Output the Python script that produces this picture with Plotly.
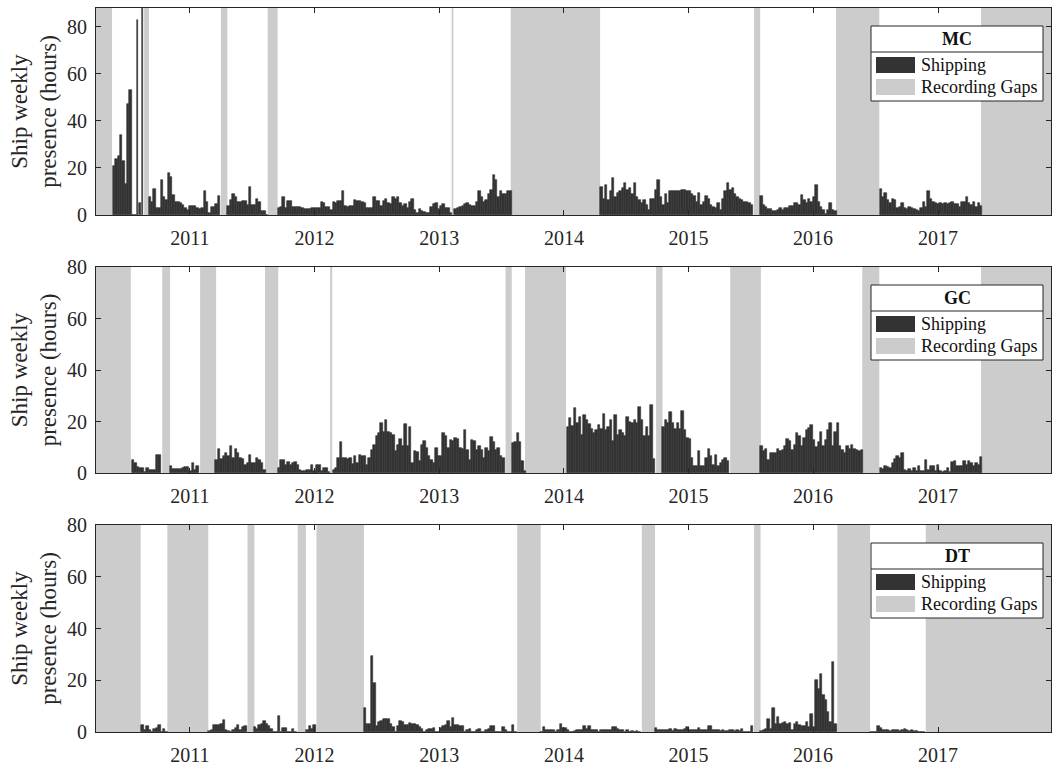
import datetime as dt
import plotly.graph_objects as go

# ---------------- data ----------------
series_start = dt.datetime(2010, 4, 1)   # first weekly bin
axis_start = "2010-04-01"
axis_end = "2017-11-28"
year_labels = ["2011", "2012", "2013", "2014", "2015", "2016", "2017"]
y_ticks = [0, 20, 40, 60, 80]

# weekly ship presence (hours); None = no recording
mc_hours = (
    [None] * 7
    + [21, 24, 25, 34, 23, 13, 47, 53, 0, 0, 83, 5, 95]
    + [None] * 2
    + [7.8, 5.7, 11, 3, 3, 15, 7.8, 6.4, 17.7, 16, 8.5, 5.7, 5.4, 5, 4.2, 2.8, 2, 4, 4, 4,
       3, 2.5, 2.8, 10, 5.7, 1, 3.5, 3.5, 4.7, 8]
    + [None] * 3
    + [4, 6.4, 8.8, 7.8, 5.7, 5.7, 6, 6, 4.2, 12, 4.2, 4.2, 6.7, 5.7, 1.8, 1.8, 0]
    + [None] * 4
    + [2.8, 3.5, 7.8, 3, 6, 6, 3.5, 3.3, 3.5, 3.5, 3, 2.4, 2.4, 2.4, 3, 3, 3, 3, 5.7, 5,
       3.5, 3.5, 2, 5.7, 5, 6, 6, 10, 3.8, 3.5, 4, 4, 6.4, 6, 6, 5.7, 5, 3, 3, 3,
       7.8, 6, 6]
    + [3.8, 6, 6.6, 5, 4.7, 7.8, 6.8, 7.8, 5, 4, 4.7, 2.8, 5.7, 6.6, 2, 0.7, 2.5, 1.8, 1.1, 1,
       1, 3.3, 4.5, 5.2, 2.5, 3.8, 4.7, 2.8, 2.8, 1]
    + [None]
    + [2.4, 3, 3.5, 3.8, 4.7, 5, 4.2, 3.8, 4, 5.7, 10, 7.8, 5.7, 6.4, 9, 10.6, 17, 15, 7.8, 10,
       8.8, 8.8, 10, 10]
    + [None] * 37
    + [12, 7, 12.7, 6.4, 10, 15.8, 7.8, 9.5, 10.3, 11.3, 13.5, 10.5, 11.3, 9, 13.5, 7.8, 6.4, 5,
       6.4, 4.2, 2, 6.6, 6.6, 10.6, 15, 7.8, 4.2, 9, 5, 10, 10, 10.3, 10.3]
    + [10.3, 10.5, 10.5, 10.2, 10, 9, 8, 5.7, 9.2, 4.2, 5.7, 8.2, 7, 4.2, 3.5, 2.8, 5, 2, 6.7, 10,
       13.5, 10.6, 11.3, 9, 7.8, 6.6, 6.4, 5.7, 5.5, 5, 4.2]
    + [None] * 3
    + [8, 4.2, 3.5, 2.4, 2.4, 1.8, 1.8, 2, 2.8, 2, 2.8, 2.8, 4, 4, 5.3, 5, 4.2, 8.5, 6.4, 5,
       6.7, 5.7, 7.8, 12.7, 5.7, 3.5, 2, 0.5, 2, 5, 2, 1.5]
    + [None] * 18
    + [10.9, 7.5, 9.2, 6.4, 5, 7, 6.4, 2.8, 3.5, 5, 2.8, 2.4, 3.5, 2.8, 2.4, 2, 1.8, 2.8, 5.7, 3.5,
       10.2, 6.6, 5.7, 5.3, 4.7, 5.3, 4.7, 5.3, 4.5, 5, 5.7, 4.7, 4.7, 3.5, 5.7, 5.7, 7.8, 5, 4.2,
       5.7, 3.5, 5, 4]
    + [None] * 29
)

gc_hours = (
    [None] * 15
    + [5.2, 3.9, 2.3, 1.9, 1.9, 0.3, 1.9, 1.3, 1.3, 1.3, 7.1, 7.1]
    + [None] * 4
    + [2.8, 1.7, 1.7, 1.7, 1.7, 1.9, 2.3, 2.3, 0.6, 3.9, 1.3, 2.6]
    + [None] * 7
    + [5.2, 9.3, 5.5, 6.5, 7.7, 6.7, 10.3, 5.8, 9.3, 7.7, 5.8, 5.4, 3.2, 3.9, 7.1, 3.9, 3.9, 5.8,
       5.2, 4.0, 1.3]
    + [None] * 5
    + [1.9, 5.2, 5.2, 3.2, 4.3, 3.2, 3.9, 4.1, 3.2, 1.3, 0.6, 0.6, 1.0, 1.3, 3.2, 0.6, 3.2, 3.2,
       0.6, 1.9, 1.9, 0.3]
    + [None]
    + [1.3, 1.9, 5.8, 11.9, 5.8, 6, 5.5, 5.8, 3.5, 6.7, 3.9, 7.1, 6.7, 6.5, 3.2, 5.8, 9, 11, 14.2,
       15.5, 19.4, 16.1, 20.4, 16, 15.7, 14.8, 8.4, 11, 13.2, 10.3, 19.1, 10.3]
    + [18, 3.9, 8.4, 8, 4.5, 11, 12.3, 9.7, 6.5, 5.2, 3.9, 9.7, 6.5, 6.7, 15.5, 14.2, 9.7, 12.9,
       12.3, 13.5, 13.2, 9.7, 9.3, 16.8, 9, 5.2, 12.9, 12.3, 9, 10.3, 9, 5.8, 9.7, 8.4, 13.9, 11.9,
       9, 9.7, 6.5, 6]
    + [None] * 3
    + [11.6, 11.9, 15.7, 12, 4.5, 0.6]
    + [None] * 17
    + [18, 21.3, 18.3, 25.2, 19.4, 21.9, 14.8, 22.6, 20.6, 19.1, 17, 15.7, 16.8, 18.7, 17, 23,
       16.8, 18, 20.4, 12.3, 22.6, 14.8, 16.8, 15.5, 14.2, 21.7, 20, 19.6, 20.6, 19.4, 25.8, 20.4,
       14.2, 18, 14.2, 26.5, 5.4]
    + [None] * 3
    + [18, 20.4, 19.6, 23.5, 19.4, 17, 19.4, 17, 23.9, 16.8, 13.5, 13.2, 5.8, 2.6, 2.6, 8.4, 2.6,
       2.6, 5.8, 9.3, 6.5, 3.2, 7.1, 2.8, 3.9, 4.9, 5.8, 4.5]
    + [None] * 13
    + [10.3, 8.6, 9.3, 5.2, 7.7, 7.7, 7.7, 9.4, 8.6, 9, 10.3, 13.2, 12.3, 9, 11, 15.5, 14.2, 10.3,
       13.5, 16.8, 17.4, 18.7, 12.9, 10.1, 11.9, 16.1, 10.3, 12.9, 16.8, 19.4, 10.3, 16.1, 19.4,
       10.3, 9, 7.7, 10.3, 9.3, 11, 9.3, 9, 8.5, 9.0]
    + [None] * 7
    + [1.9, 1.5, 2.6, 2.3, 1.9, 3.9, 5.4, 6.5, 5.8, 7.7, 1.3, 0.6, 1.5, 0.6, 1.9, 0.6, 2.8, 0.6,
       0.6, 4.9, 1.3, 2.6, 2.6, 0.6, 3.2, 0.6, 0.3, 0.6, 1.9, 0.3, 4.1, 4.5, 2.6, 2.6, 2.8, 4.5,
       3.2, 4.5, 3.9, 2.6, 4.0, 3.0, 6.2]
    + [None] * 29
)

dt_hours = (
    [None] * 19
    + [2.8, 0.6, 2.2, 0.6, 0, 1.3, 1.7, 2.6, 0, 1, 0]
    + [None] * 17
    + [0.3, 0.6, 2.6, 2.6, 2.6, 3, 4.8, 0.6, 0.3, 0, 0.6, 1.7, 2.6, 0.6, 1.9, 2.2]
    + [None] * 3
    + [1.9, 1.3, 2.6, 3, 4.3, 3.2, 2.2, 1.3, 0, 0, 6.2, 0, 1.7, 1.7, 0, 0, 1, 0]
    + [None] * 4
    + [0.6, 2.2, 1, 2.8]
    + [None] * 20
    + [9.4, 3.2, 3.2, 29.3, 19, 2.2, 3.9, 4.3, 5.2, 5.2, 5.2, 3.2, 1.9, 0, 2.2, 4.3, 3.9, 2.6,
       2.6, 3.5]
    + [3.2, 3.2, 2.6, 1.9, 1, 0, 0.6, 1.3, 1.3, 1.7, 0, 0, 1.7, 2.2, 2.6, 4.3, 1.9, 5.5, 2.6, 2.6,
       2.2, 2.2, 0, 0.6, 1.3, 0, 0, 0.9, 1.3, 0, 0, 0.6, 1.3, 2.2, 2.2, 0, 0, 0, 1.9, 0.6, 0, 0,
       2.6, 0]
    + [None] * 10
    + [0, 1.9, 0.6, 0.6, 0.9, 0.6, 0, 0.6, 3.2, 1.7, 1.7, 0.6, 0, 0, 0.4, 0.9, 0.6, 0.9, 2.2, 1.3,
       2.2, 0.9, 0.6, 0.9, 0, 0.6, 0.6, 0.6, 0.9, 0.9, 1.9, 1.9, 1.3, 0.6, 0.6, 0, 0.6, 0, 0.4, 0,
       0.3, 0]
    + [None] * 6
    + [1.7, 0.6, 0.9, 0.6, 0.6, 0.6, 1.3, 0.4, 1, 0.9, 0.6, 0.9, 1.3, 1.9, 0.9, 0.6, 0.6, 0.6, 1.7,
       0.9, 0.9, 0.6, 2.2, 2.2, 0.9, 0.6, 0.6, 0.4, 0.9, 0.4, 0.4, 0.6]
    + [0.6, 0.4, 0.6, 0.4, 1.3, 0, 0, 0, 2.2]
    + [None] * 3
    + [0.4, 0.6, 1.3, 5.2, 1.3, 9.4, 3.2, 5.8, 3.0, 3.5, 3.9, 3.2, 3.5, 0.6, 3.2, 3.9, 2.6, 2.2,
       2.2, 3.9, 1.9, 6.8, 1.9, 20, 16.8, 22.3, 14.2, 12.3, 7.7, 3.9, 27.1, 3.2]
    + [None] * 14
    + [0, 0, 0, 2.2, 1.7, 0.9, 0.6, 0.6, 0.4, 0.6, 0.6, 0.6, 0.4, 0.6, 1.3, 0.9, 0.4, 0.6, 0.4,
       0.4, 0, 0, 0]
    + [None] * 53
)

# recording gaps (start, end)
mc_gaps = [("2010-04-01", "2010-05-18"), ("2010-08-20", "2010-09-03"),
           ("2011-04-02", "2011-04-21"), ("2011-08-17", "2011-09-15"),
           ("2013-02-06", "2013-02-11"), ("2013-07-29", "2014-04-17"),
           ("2015-07-12", "2015-07-30"), ("2016-03-08", "2016-07-13"),
           ("2017-05-07", "2017-11-28")]
gc_gaps = [("2010-04-01", "2010-07-12"), ("2010-10-12", "2010-11-04"),
           ("2011-01-31", "2011-03-19"), ("2011-08-09", "2011-09-17"),
           ("2012-02-16", "2012-02-22"), ("2013-07-14", "2013-08-01"),
           ("2013-09-09", "2014-01-07"), ("2014-09-28", "2014-10-17"),
           ("2015-05-03", "2015-08-01"), ("2016-05-24", "2016-07-13"),
           ("2017-05-07", "2017-11-28")]
dt_gaps = [("2010-04-01", "2010-08-10"), ("2010-10-27", "2011-02-24"),
           ("2011-06-19", "2011-07-09"), ("2011-11-13", "2011-12-07"),
           ("2012-01-07", "2012-05-25"), ("2013-08-17", "2013-10-25"),
           ("2014-08-17", "2014-09-25"), ("2015-07-12", "2015-07-31"),
           ("2016-03-12", "2016-06-16"), ("2016-11-26", "2017-11-28")]

site_names = ["MC", "GC", "DT"]
legend_labels = ["Shipping", "Recording Gaps"]

# ---------------- styling / layout ----------------
W, H = 1053, 768
L, R, T, B = 96, 2, 8, 36
PW, PH = W - L - R, H - T - B
panel_px = [(8, 215), (267, 473), (525, 732)]   # top, bottom pixel rows of each panel
y_max = [88, 80, 80]
BAR = "#333333"
GAP = "#cccccc"
INK = "#262626"
FONT = "Liberation Serif"
WEEK_MS = 7 * 24 * 3600 * 1000
SPIKE_MS = 2.5 * 24 * 3600 * 1000   # very short, very high bins drawn as thin spikes

def px_x(px):
    return (px - L) / PW

def px_y(py):
    return (H - B - py) / PH

fig = go.Figure()
series = [mc_hours, gc_hours, dt_hours]
gaps = [mc_gaps, gc_gaps, dt_gaps]

for i in range(3):
    sfx = "" if i == 0 else str(i + 1)
    xs, ys, ws = [], [], []
    for k, v in enumerate(series[i]):
        if v is None:
            continue
        xs.append((series_start + dt.timedelta(days=7 * k + 3.5)).isoformat())
        ys.append(v)
        ws.append(SPIKE_MS if v > 80 else WEEK_MS)
    fig.add_trace(go.Bar(x=xs, y=ys, width=ws,
                         marker=dict(color=BAR, line=dict(width=0.6, color=BAR)),
                         name=legend_labels[0], showlegend=False,
                         xaxis="x" + sfx, yaxis="y" + sfx))
    for g0, g1 in gaps[i]:
        fig.add_shape(type="rect", xref="x" + sfx, yref="y" + sfx + " domain",
                      x0=g0, x1=g1, y0=0, y1=1, fillcolor=GAP, line=dict(width=0),
                      layer="below")

    top, bot = panel_px[i]
    dom = [px_y(bot), px_y(top)]
    axis_common = dict(showline=True, mirror="ticks", linecolor=INK, linewidth=1,
                       ticks="inside", ticklen=5, tickcolor=INK, showgrid=False,
                       zeroline=False, tickfont=dict(family=FONT, size=20, color=INK))
    fig.update_layout(**{
        "xaxis" + sfx: dict(axis_common, type="date", range=[axis_start, axis_end],
                            tickvals=[f"{y}-01-01" for y in year_labels],
                            ticktext=year_labels, anchor="y" + sfx, domain=[0, 1],
                            ticklabelstandoff=5),
        "yaxis" + sfx: dict(axis_common, range=[0, y_max[i]], tickvals=y_ticks,
                            anchor="x" + sfx, domain=dom, ticklabelstandoff=4,
                            title=dict(text="Ship weekly<br>presence (hours)",
                                       font=dict(family=FONT, size=23, color=INK),
                                       standoff=3)),
    })

    # legend box (drawn per panel)
    bx0, bx1 = 871, 1043
    fig.add_shape(type="rect", xref="paper", yref="paper",
                  x0=px_x(bx0), x1=px_x(bx1), y0=px_y(top + 93), y1=px_y(top + 18),
                  fillcolor="white", line=dict(color=INK, width=1))
    fig.add_shape(type="line", xref="paper", yref="paper",
                  x0=px_x(bx0), x1=px_x(bx1), y0=px_y(top + 44), y1=px_y(top + 44),
                  line=dict(color=INK, width=1))
    for r, (lab, col) in enumerate(zip(legend_labels, [BAR, GAP])):
        cy = top + 57 + 22 * r
        fig.add_shape(type="rect", xref="paper", yref="paper",
                      x0=px_x(876), x1=px_x(915), y0=px_y(cy + 8), y1=px_y(cy - 8),
                      fillcolor=col, line=dict(width=0))
        fig.add_annotation(xref="paper", yref="paper", x=px_x(919), y=px_y(cy),
                           text=lab, showarrow=False, xanchor="left", yanchor="middle",
                           font=dict(family=FONT, size=18, color="#111111"))
    fig.add_annotation(xref="paper", yref="paper", x=px_x(957), y=px_y(top + 31),
                       text="<b>" + site_names[i] + "</b>", showarrow=False,
                       xanchor="center", yanchor="middle",
                       font=dict(family=FONT, size=18, color="#111111"))

fig.update_layout(width=W, height=H, margin=dict(l=L, r=R, t=T, b=B, autoexpand=False),
                  paper_bgcolor="white", plot_bgcolor="white", bargap=0,
                  showlegend=False, font=dict(family=FONT, color=INK))

fig.write_html("out.html", config={"displayModeBar": False},
               post_script="document.body.style.margin='0px';"
                           "document.body.style.overflow='hidden';")
